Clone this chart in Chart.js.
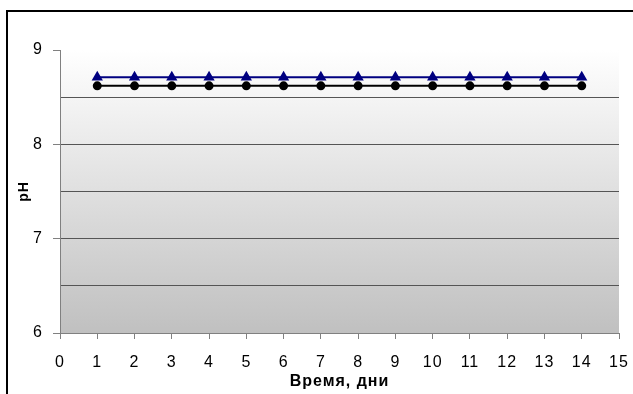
<!DOCTYPE html>
<html>
<head>
<meta charset="utf-8">
<script src="https://cdn.jsdelivr.net/npm/chart.js@4/dist/chart.umd.min.js"></script>
<style>
  html, body { margin: 0; padding: 0; background: #fff; overflow: hidden; }
  #wrap { position: relative; width: 633px; height: 394px; }
</style>
</head>
<body>
<div id="wrap"><canvas id="phChart" width="633" height="394"></canvas></div>
<script>
// days of observation
const days = [1, 2, 3, 4, 5, 6, 7, 8, 9, 10, 11, 12, 13, 14];
// pH readings, two samples
const phBlue = [8.71, 8.71, 8.71, 8.71, 8.71, 8.71, 8.71, 8.71, 8.71, 8.71, 8.71, 8.71, 8.71, 8.71];
const phBlack = [8.62, 8.62, 8.62, 8.62, 8.62, 8.62, 8.62, 8.62, 8.62, 8.62, 8.62, 8.62, 8.62, 8.62];

const xTitle = 'Время, дни';
const yTitle = 'pH';

const toPoints = (vals) => days.map((d, i) => ({ x: d, y: vals[i] }));

// gray gradient behind the plot + outer frame
const decor = {
  id: 'decor',
  beforeDraw(chart) {
    const { ctx, chartArea: a } = chart;
    const g = ctx.createLinearGradient(0, a.top, 0, a.bottom);
    g.addColorStop(0, '#ffffff');
    g.addColorStop(1, '#c0c0c0');
    ctx.save();
    ctx.fillStyle = g;
    ctx.fillRect(a.left, a.top, a.right - a.left, a.bottom - a.top);
    ctx.restore();
    // excel-ish wide text
    ctx.letterSpacing = '1px';
  },
  afterDraw(chart) {
    const ctx = chart.ctx;
    ctx.save();
    ctx.strokeStyle = '#000';
    ctx.lineWidth = 2;
    ctx.strokeRect(7, 11, 800, 600);
    ctx.restore();
  }
};

const ctx = document.getElementById('phChart').getContext('2d');
new Chart(ctx, {
  type: 'line',
  data: {
    datasets: [
      {
        data: toPoints(phBlue),
        borderColor: '#000080',
        backgroundColor: '#000080',
        borderWidth: 2,
        pointStyle: 'triangle',
        pointRadius: 4.5,
        fill: false
      },
      {
        data: toPoints(phBlack),
        borderColor: '#000',
        backgroundColor: '#000',
        borderWidth: 2,
        pointStyle: 'circle',
        pointRadius: 3.5,
        fill: false
      }
    ]
  },
  options: {
    responsive: false,
    animation: false,
    layout: { padding: { left: 16, top: 50, right: 14, bottom: 0 } },
    plugins: { legend: { display: false }, tooltip: { enabled: false } },
    scales: {
      x: {
        type: 'linear',
        min: 0,
        max: 15,
        afterFit: (s) => { s.height = 61; s.paddingLeft = 0; s.paddingRight = 0; },
        border: { color: '#808080', width: 1 },
        grid: { drawOnChartArea: false, tickColor: '#808080', tickLength: 6 },
        ticks: { stepSize: 1, color: '#000', padding: 14, font: { family: 'Arial', size: 16 } },
        title: {
          display: true,
          text: xTitle,
          color: '#000',
          padding: { top: 0, bottom: 3 },
          font: { family: 'Arial', size: 16, weight: 'bold' }
        }
      },
      y: {
        min: 6,
        max: 9,
        afterFit: (s) => { s.width = 44; s.paddingTop = 0; s.paddingBottom = 0; },
        border: { color: '#808080', width: 1 },
        grid: {
          color: (c) => (c.tick && c.tick.value > 6 && c.tick.value < 9) ? '#555' : 'rgba(0,0,0,0)',
          tickColor: (c) => (c.tick && Number.isInteger(c.tick.value)) ? '#808080' : 'rgba(0,0,0,0)',
          tickLength: 7
        },
        ticks: {
          stepSize: 0.5,
          color: '#000',
          padding: 10,
          font: { family: 'Arial', size: 16 },
          callback: (v) => Number.isInteger(v) ? String(v) : ''
        },
        title: {
          display: true,
          text: yTitle,
          color: '#000',
          padding: 0,
          font: { family: 'Arial', size: 14, weight: 'bold' }
        }
      }
    }
  },
  plugins: [decor]
});
</script>
</body>
</html>
